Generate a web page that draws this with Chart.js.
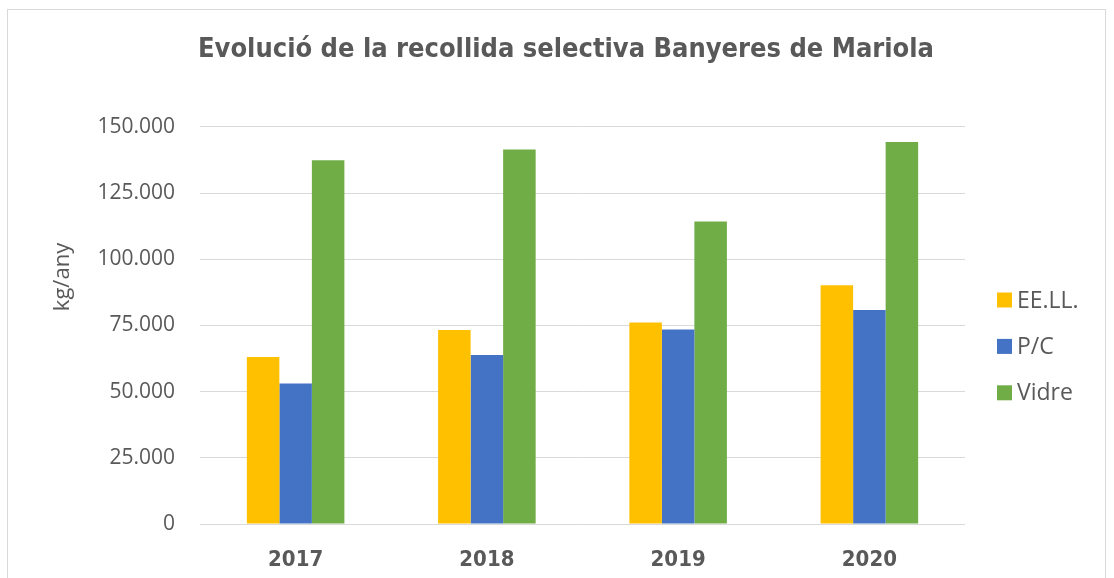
<!DOCTYPE html>
<html>
<head>
<meta charset="utf-8">
<script src="https://cdn.jsdelivr.net/npm/chart.js@4/dist/chart.umd.min.js"></script>
<style>
  html, body { margin: 0; padding: 0; background: #fff; overflow: hidden; }
  .frame { position: absolute; left: 7px; top: 9px; width: 1097px; height: 620px; border: 1px solid #d9d9d9; }
  .wrap { position: absolute; left: 0; top: 0; width: 1114px; height: 578px; }
</style>
</head>
<body>
<div class="frame"></div>
<div class="wrap"><canvas id="chart" width="1114" height="578"></canvas></div>
<script>
// dades (kg/any)
const years = ['2017', '2018', '2019', '2020'];
const eell = [63100, 73300, 76100, 90200];
const pc = [53100, 63800, 73500, 80800];
const vidre = [137400, 141500, 114300, 144300];
const yTicks = [0, 25000, 50000, 75000, 100000, 125000, 150000];

const grey = '#595959';
const fmt = v => String(v).replace(/\B(?=(\d{3})+(?!\d))/g, '.');

// llegenda a la dreta + títol de l'eix Y, dibuixats a mà
const extras = {
  id: 'extras',
  afterDraw(chart) {
    const ctx = chart.ctx;
    ctx.save();
    ctx.font = '23px "Open Sans", sans-serif';
    ctx.textBaseline = 'middle';
    ctx.textAlign = 'left';
    chart.data.datasets.forEach((ds, i) => {
      const y = 300 + i * 46.4;
      ctx.fillStyle = ds.backgroundColor;
      ctx.fillRect(997, y - 7.5, 15, 15);
      ctx.fillStyle = grey;
      ctx.fillText(ds.label, 1017, y + 1);
    });
    // kg/any
    ctx.translate(62.5, 277);
    ctx.rotate(-Math.PI / 2);
    ctx.textAlign = 'center';
    ctx.font = '22px "Open Sans", sans-serif';
    ctx.fillText('kg/any', 0, 0);
    ctx.restore();
  }
};

new Chart(document.getElementById('chart'), {
  type: 'bar',
  data: {
    labels: years,
    datasets: [
      { label: 'EE.LL.', data: eell, backgroundColor: '#FFC000' },
      { label: 'P/C', data: pc, backgroundColor: '#4472C4' },
      { label: 'Vidre', data: vidre, backgroundColor: '#70AD47' }
    ]
  },
  options: {
    responsive: false,
    animation: false,
    layout: { padding: { left: 18, right: 0, top: 0, bottom: 0 } },
    datasets: { bar: { categoryPercentage: 0.51, barPercentage: 1.0 } },
    plugins: {
      legend: { display: false },
      tooltip: { enabled: false },
      title: {
        display: true,
        text: 'Evolució de la recollida selectiva Banyeres de Mariola',
        color: grey,
        font: { family: '"DejaVu Sans Condensed", "Liberation Sans Narrow", sans-serif', size: 27, weight: 'bold' },
        padding: { top: 33.5, bottom: 61 }
      }
    },
    scales: {
      x: {
        afterFit(scale) { scale.height = 54; },
        grid: { display: false, drawTicks: false },
        border: { display: false },
        ticks: {
          color: grey,
          padding: 23,
          font: { family: '"DejaVu Sans Condensed", "Liberation Sans Narrow", sans-serif', size: 22, weight: 'bold' }
        }
      },
      y: {
        min: 0,
        max: 150000,
        afterBuildTicks(scale) { scale.ticks = yTicks.map(v => ({ value: v })); },
        afterFit(scale) { scale.width = 182; },
        grid: { color: '#d9d9d9', lineWidth: 1, drawTicks: false },
        border: { display: false },
        ticks: {
          color: grey,
          padding: 25,
          font: { family: '"Open Sans", sans-serif', size: 21 },
          callback: v => fmt(v)
        }
      },
      // espai buit per a la llegenda
      side: {
        position: 'right',
        afterFit(scale) { scale.width = 149; },
        grid: { display: false, drawTicks: false },
        border: { display: false },
        ticks: { display: false }
      }
    }
  },
  plugins: [extras]
});
</script>
</body>
</html>
